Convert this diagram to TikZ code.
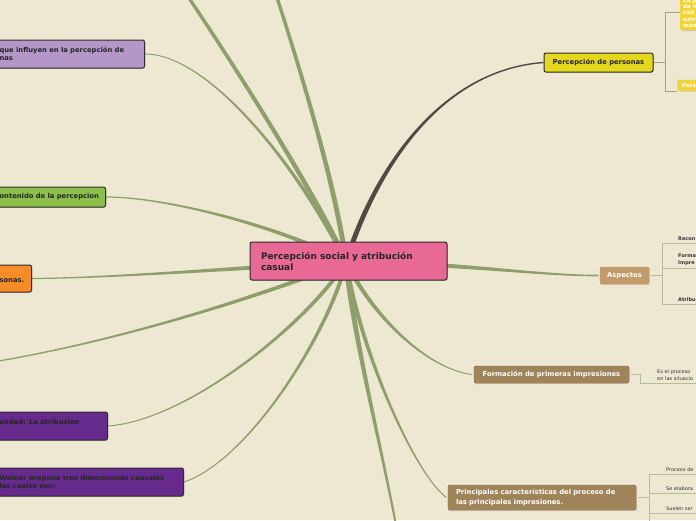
\documentclass[tikz,border=0pt]{standalone}
\usepackage{fontspec}
\setmainfont{DejaVu Sans}
\usetikzlibrary{calc,shadows}

\definecolor{paper}{HTML}{EEE8D3}
\definecolor{twig}{HTML}{8E9F6B}
\definecolor{darktwig}{HTML}{4E4B44}
\definecolor{rootpink}{HTML}{E86996}
\definecolor{persyellow}{HTML}{E4D81E}
\definecolor{leafyellow}{HTML}{F2D43A}
\definecolor{lavender}{HTML}{B297C8}
\definecolor{leafgreen}{HTML}{8DC04A}
\definecolor{tangerine}{HTML}{F58C28}
\definecolor{grape}{HTML}{662A8C}
\definecolor{tanbox}{HTML}{C19B69}
\definecolor{umber}{HTML}{A08459}
\definecolor{boxline}{HTML}{2E2B2A}
\definecolor{persline}{HTML}{A9A08C}
\definecolor{aspline}{HTML}{B7BC98}

\pgfdeclarelayer{paperlayer}
\pgfdeclarelayer{links}
\pgfsetlayers{paperlayer,links,main}

% tapered branch: from, control 1, control 2, to, half width at start, half width at end, colour
\newcommand{\limb}[7]{%
  \fill[#7] ($(#1)!#5!90:(#2)$) .. controls ($(#2)!#5!-90:(#1)$) and ($(#3)!#6!90:(#4)$)
    .. ($(#4)!#6!-90:(#3)$) -- ($(#4)!#6!90:(#3)$)
    .. controls ($(#3)!#6!-90:(#4)$) and ($(#2)!#5!90:(#1)$)
    .. ($(#1)!#5!-90:(#2)$) -- cycle;}

\begin{document}
\begin{tikzpicture}[
  x=1pt, y=-1pt,
  shade/.style={drop shadow={shadow xshift=.8pt, shadow yshift=-.8pt, opacity=.3}},
  topic/.style={draw=boxline, line width=1pt, rounded corners=2pt, shade,
    font=\fontsize{6.8}{8.3}\selectfont\bfseries, text=black!85,
    inner xsep=4pt, inner ysep=2pt},
  rootbox/.style={topic, fill=rootpink, minimum width=197, minimum height=38,
    text width=175, align=left, inner xsep=11pt, line width=1pt,
    font=\fontsize{9}{11}\selectfont\bfseries, text=black!85},
  leftbox/.style={topic, anchor=east, align=left, inner xsep=5pt},
  brownbox/.style={topic, draw=white!80!paper, text=white},
  yellowleaf/.style={fill=leafyellow, text=white, shade, rounded corners=1.5pt,
    font=\fontsize{5.6}{6.3}\selectfont\bfseries, align=left, inner ysep=2pt},
  leaf/.style={anchor=south west, align=left, text width=40, inner xsep=0pt,
    inner ysep=2.5pt, font=\fontsize{5}{6.5}\selectfont, text=black!80},
  subline/.style={draw=#1, line width=.8pt},
]
\begin{pgfonlayer}{paperlayer}
  \fill[paper] (0,0) rectangle (696,520);
\end{pgfonlayer}
\useasboundingbox (0,0) rectangle (696,520);

% centre
\node[rootbox] (root) at (348.5,261) {Percepción social y atribución\\casual};
\coordinate (hub) at (346,262);

% left side
\node[leftbox, fill=lavender, minimum width=150, minimum height=28, text width=140]
  (factores) at (145,54) {que influyen en la percepción de\\nas};
\node[leftbox, fill=leafgreen, minimum width=111, minimum height=20, text width=101]
  (contenido) at (106,197) {ontenido de la percepcion};
\node[leftbox, fill=tangerine, minimum width=37, minimum height=27, text width=27]
  (personas) at (32,278.5) {\mbox{}\\sonas.};
\node[leftbox, fill=grape, minimum width=113, minimum height=28, text width=103]
  (causalidad) at (108,426) {alidad: La atribusion\\\mbox{}};
\node[leftbox, fill=grape, minimum width=189, minimum height=28, text width=179]
  (weiner) at (184,482) {Weiner propone tres dimensiones causales\\las cuales son:};
\coordinate (up1) at (149,-60);
\coordinate (up2) at (258,-60);
\coordinate (west1) at (-40,367);
\coordinate (down1) at (402,560);

% right side
\node[topic, fill=persyellow, minimum width=109, minimum height=19]
  (pers) at (598.5,62.5) {Percepción de personas};
\node[brownbox, fill=tanbox, minimum width=51, minimum height=19]
  (aspectos) at (624.5,275.5) {Aspectos};
\node[brownbox, fill=umber, minimum width=157, minimum height=19]
  (formacion) at (551.5,374.5) {Formación de primeras impresiones};
\node[brownbox, fill=umber, minimum width=190, minimum height=27, text width=172,
  align=left, inner xsep=9pt, font=\fontsize{6.8}{9.7}\selectfont\bfseries]
  (principal) at (542,497.5) {Principales características del proceso de\\las principales impresiones.};

% branches
\begin{pgfonlayer}{links}
  \limb{hub}{375,170}{440,70}{pers.west}{2.5pt}{.7pt}{darktwig}
  \limb{hub}{320,200}{220,40}{up1}{2.5pt}{1.6pt}{twig}
  \limb{hub}{335,180}{295,50}{up2}{2.5pt}{1.6pt}{twig}
  \limb{hub}{300,170}{210,54}{factores.east}{2pt}{.5pt}{twig}
  \limb{hub}{290,230}{170,197}{contenido.east}{2.2pt}{.6pt}{twig}
  \limb{hub}{280,265}{120,278}{personas.east}{2.5pt}{.6pt}{twig}
  \limb{hub}{290,285}{120,345}{west1}{2.2pt}{.6pt}{twig}
  \limb{hub}{310,320}{190,420}{causalidad.east}{2pt}{.5pt}{twig}
  \limb{hub}{330,330}{250,460}{weiner.east}{2pt}{.5pt}{twig}
  \limb{hub}{355,350}{390,480}{down1}{2.6pt}{.9pt}{twig}
  \limb{hub}{360,350}{415,475}{principal.west}{2.2pt}{.5pt}{twig}
  \limb{hub}{375,320}{430,370}{formacion.west}{2.2pt}{.5pt}{twig}
  \limb{hub}{450,262}{540,276}{aspectos.west}{2.5pt}{.8pt}{twig}
\end{pgfonlayer}

% Percepción de personas
\node[yellowleaf, anchor=north west, minimum width=30, minimum height=35, text width=24,
  inner xsep=3pt] (definicion) at (680,-5) {La p\\de n\\cod\\extr\\man};
\node[yellowleaf, anchor=south west, minimum height=11, inner xsep=5pt]
  (factores2) at (677,91) {Facto};
\draw[subline=persline] (pers.east) -- ++(12,0) coordinate (pk);
\draw[subline=persline] (pk) |- (definicion.west);
\draw[subline=persline] (pk) |- (factores2.south west);

% Aspectos
\node[leaf, font=\fontsize{5}{6.5}\selectfont\bfseries] (recon) at (678,243) {Recon};
\node[leaf, font=\fontsize{5}{6.5}\selectfont\bfseries] (forma) at (678,268) {Forma\\Impre};
\node[leaf, font=\fontsize{5}{6.5}\selectfont\bfseries] (atrib) at (678,304) {Atribu};
\draw[subline=aspline] (aspectos.east) -- ++(12,0) coordinate (ak);
\draw[subline=aspline] (ak) |- (recon.south east);
\draw[subline=aspline] (ak) |- (forma.south east);
\draw[subline=aspline] (ak) |- (atrib.south east);

% Formación de primeras impresiones
\node[leaf] (esel) at (657,383) {Es el proceso\\en las situacio};
\draw[subline=aspline] (formacion.east) -- ++(10,0) |- (esel.south east);

% Principales características
\node[leaf] (proceso) at (666,474) {Proceso de};
\node[leaf] (elabora) at (666,493) {Se elabora};
\node[leaf] (suelen) at (666,513) {Suelen ser};
\draw[subline=aspline] (principal.east) -- ++(12,0) coordinate (prk);
\draw[subline=aspline] (prk) |- (proceso.south east);
\draw[subline=aspline] (prk) |- (elabora.south east);
\draw[subline=aspline] (prk) |- (suelen.south east);
\draw[subline=aspline] (prk) -- ($(prk)+(0,40)$);
\end{tikzpicture}
\end{document}
